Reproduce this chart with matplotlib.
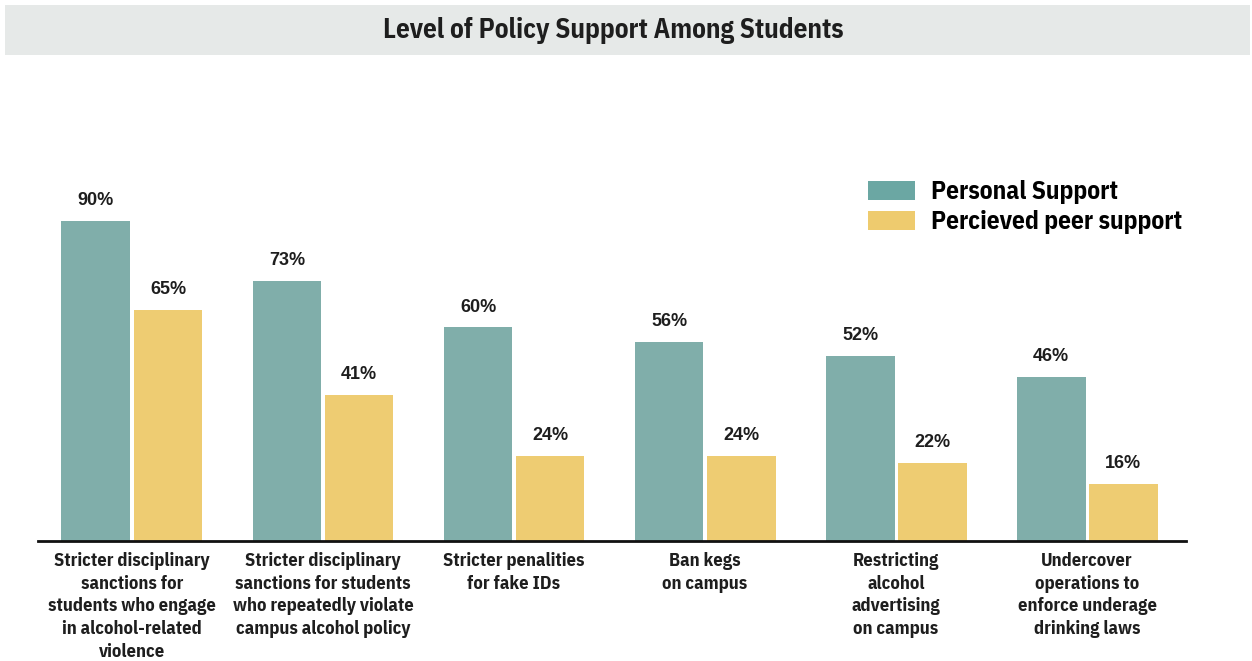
import matplotlib
matplotlib.use("Agg")
import matplotlib.pyplot as plt
from matplotlib.patches import Rectangle, Patch
import numpy as np

categories = [
    "Stricter disciplinary\nsanctions for\nstudents who engage\nin alcohol-related\nviolence",
    "Stricter disciplinary\nsanctions for students\nwho repeatedly violate\ncampus alcohol policy",
    "Stricter penalities\nfor fake IDs",
    "Ban kegs\non campus",
    "Restricting\nalcohol\nadvertising\non campus",
    "Undercover\noperations to\nenforce underage\ndrinking laws",
]
personal = [90, 73, 60, 56, 52, 46]
peer = [65, 41, 24, 24, 22, 16]
series_names = ["Personal Support", "Percieved peer support"]
title = "Level of Policy Support Among Students"

teal = "#80AEAA"
yellow = "#EECC72"
txt = "#1E1E1E"
narrow = ["IBM Plex Sans Condensed", "DejaVu Sans"]
num_font = ["Liberation Sans", "DejaVu Sans"]

W, H = 1252, 661
fig = plt.figure(figsize=(W / 100, H / 100), dpi=100)

# gray title band
fig.patches.append(Rectangle((5 / W, 1 - 55 / H), 1245 / W, 50 / H,
                             transform=fig.transFigure, facecolor="#E6E9E8",
                             edgecolor="none", zorder=0))
fig.text(613 / W, 1 - 30 / H, title, ha="center", va="center",
         fontsize=19.5, fontweight="bold", family=narrow, color=txt)

ax = fig.add_axes([38 / W, (H - 541) / H, 1148 / W, 356 / H])
x = np.arange(len(categories))
bw = 0.361
off = 0.1885
b1 = ax.bar(x - off, personal, bw, color=teal)
b2 = ax.bar(x + off, peer, bw, color=yellow)

for bars, vals in ((b1, personal), (b2, peer)):
    for r, v in zip(bars, vals):
        ax.annotate(f"{v}%", (r.get_x() + r.get_width() / 2, v),
                    xytext=(0, 8.5), textcoords="offset points",
                    ha="center", va="bottom", fontsize=13,
                    fontweight="bold", family=num_font, color=txt)

ax.set_xlim(-0.492, 5.518)
ax.set_ylim(0, 100)
for s in ["top", "right", "left"]:
    ax.spines[s].set_visible(False)
ax.spines["bottom"].set_linewidth(2)
ax.spines["bottom"].set_color("#111111")
ax.set_yticks([])
ax.set_xticks(x)
ax.set_xticklabels(categories, fontsize=13.3, fontweight="bold",
                   family=narrow, color=txt, linespacing=1.33)
ax.tick_params(axis="x", length=0, pad=8)

handles = [Patch(facecolor="#6BA7A3"), Patch(facecolor="#EECB6E")]
ax.legend(handles, series_names, loc="upper left",
          bbox_to_anchor=((868 - 38) / 1148, (541 - 180) / 356),
          frameon=False, prop={"family": narrow, "weight": "bold", "size": 18.3},
          handlelength=1.85, handleheight=0.78, handletextpad=0.62,
          labelspacing=0.25, borderpad=0, borderaxespad=0)

fig.savefig("out.png", dpi=100)
